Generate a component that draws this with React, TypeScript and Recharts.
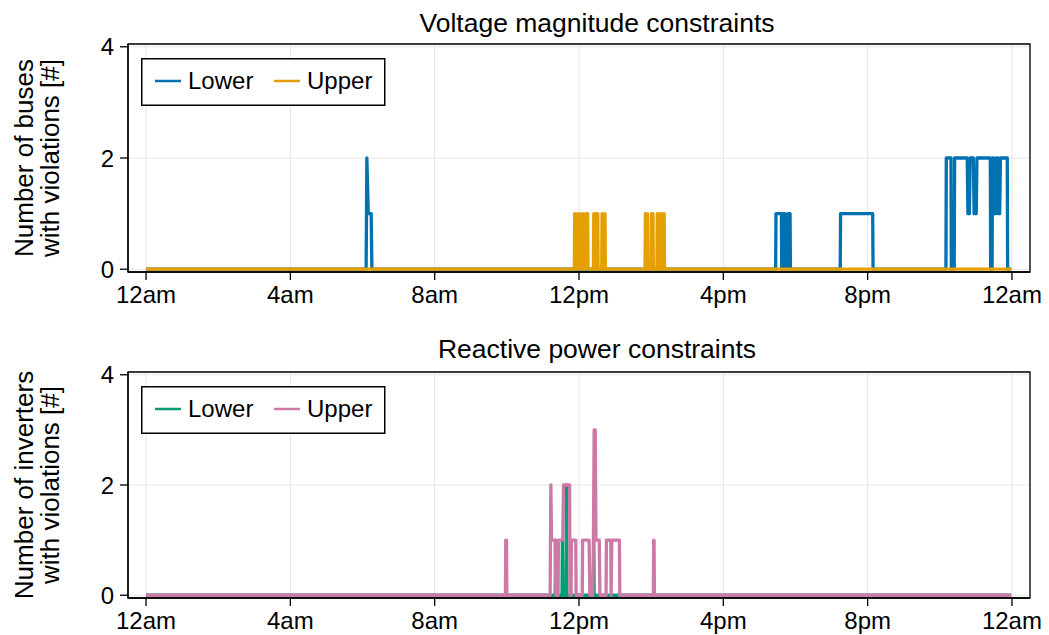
import React from 'react';
import { LineChart, Line, XAxis, YAxis, CartesianGrid, ReferenceArea } from 'recharts';

// ---- axis ticks ----
const hourTicks = [0, 4, 8, 12, 16, 20, 24];
const hourLabels = ['12am', '4am', '8am', '12pm', '4pm', '8pm', '12am'];
const countTicks = [0, 2, 4];

// ---- Voltage magnitude constraints ----
const voltLowerT = [0, 6.10, 6.12, 6.16, 6.24, 6.26, 17.45, 17.46, 17.61, 17.62, 17.64, 17.65, 17.71, 17.72, 17.78, 17.79, 17.85, 17.86, 19.24, 19.25, 20.14, 20.15, 22.17, 22.18, 22.31, 22.32, 22.40, 22.41, 22.76, 22.78, 22.82, 22.84, 22.93, 22.95, 23.01, 23.03, 23.40, 23.41, 23.45, 23.46, 23.50, 23.52, 23.55, 23.57, 23.61, 23.63, 23.66, 23.68, 23.87, 23.88, 23.98];
const voltLowerV = [0, 0, 2, 1, 1, 0, 0, 1, 1, 0, 0, 1, 1, 0, 0, 1, 1, 0, 0, 1, 1, 0, 0, 2, 2, 0, 0, 2, 2, 1, 1, 2, 2, 1, 1, 2, 2, 0, 0, 2, 2, 1, 1, 2, 2, 1, 1, 2, 2, 0, 0];

const voltUpperT = [0, 11.87, 11.88, 11.92, 11.96, 12.00, 12.04, 12.08, 12.12, 12.16, 12.20, 12.24, 12.25, 12.40, 12.41, 12.45, 12.48, 12.52, 12.53, 12.63, 12.64, 12.68, 12.72, 12.73, 13.83, 13.84, 13.87, 13.90, 13.91, 14.00, 14.01, 14.05, 14.06, 14.16, 14.17, 14.20, 14.24, 14.26, 14.28, 14.32, 14.36, 14.37, 23.98];
const voltUpperV = [0, 0, 1, 0, 1, 0, 1, 0, 1, 0, 1, 1, 0, 0, 1, 0, 1, 1, 0, 0, 1, 0, 1, 0, 0, 1, 0, 1, 0, 0, 1, 1, 0, 0, 1, 0, 1, 0, 1, 0, 1, 0, 0];

// ---- Reactive power constraints ----
const reactLowerT = [0, 11.34, 11.35, 11.36, 11.53, 11.54, 11.55, 11.64, 11.65, 11.66, 12.40, 12.41, 12.42, 23.98];
const reactLowerV = [0, 0, 1, 0, 0, 1, 0, 0, 2, 0, 0, 1, 0, 0];

const reactUpperT = [0, 9.96, 9.97, 9.99, 10.00, 11.20, 11.22, 11.24, 11.34, 11.36, 11.42, 11.43, 11.55, 11.57, 11.74, 11.75, 11.78, 11.79, 11.91, 11.92, 12.09, 12.10, 12.28, 12.30, 12.38, 12.40, 12.42, 12.45, 12.47, 12.56, 12.58, 12.75, 12.76, 12.88, 12.89, 12.91, 13.12, 13.13, 14.06, 14.07, 14.08, 14.09, 23.98];
const reactUpperV = [0, 0, 1, 1, 0, 0, 2, 1, 1, 0, 0, 1, 1, 2, 2, 0, 0, 1, 1, 0, 0, 1, 1, 0, 0, 1, 3, 3, 1, 1, 0, 0, 1, 1, 0, 1, 1, 0, 0, 1, 1, 0, 0];

const zip = (t: number[], v: number[]) => t.map((x, i) => ({ t: x, v: v[i] }));

const FONT = '"Liberation Sans", Arial, Helvetica, sans-serif';
const BLUE = '#0072B2';
const ORANGE = '#E69F00';
const GREEN = '#009E73';
const PINK = '#CC79A7';

type Series = { name: string; color: string; data: { t: number; v: number }[] };

function Panel(props: {
  top: number;
  height: number;
  marginTop: number;
  xHeight: number;
  title: string;
  titleY: number;
  yLines: string[];
  series: Series[];
}) {
  const { top, height, marginTop, xHeight, title, titleY, yLines, series } = props;
  const plotTop = marginTop;
  const plotBottom = height - xHeight;
  const midY = (plotTop + plotBottom) / 2;
  return (
    <div style={{ position: 'absolute', left: 0, top, width: 1049, height }}>
      <LineChart width={1049} height={height} margin={{ top: marginTop, right: 19, bottom: 0, left: 0 }}>
        <CartesianGrid stroke="#e6e6e6" strokeWidth={1} horizontal vertical />
        <XAxis
          type="number"
          dataKey="t"
          domain={[-0.5, 24.5]}
          ticks={hourTicks}
          allowDataOverflow
          height={xHeight}
          tickSize={8}
          tickMargin={6}
          interval={0}
          tickFormatter={(v: number) => hourLabels[hourTicks.indexOf(v)]}
          tick={{ fill: '#000', fontSize: 24, fontFamily: FONT }}
          axisLine={{ stroke: '#000', strokeWidth: 1.3 }}
          tickLine={{ stroke: '#000', strokeWidth: 1.3 }}
        />
        <YAxis
          type="number"
          domain={[-0.05, 4.05]}
          ticks={countTicks}
          allowDataOverflow
          width={128}
          tickSize={8}
          tickMargin={6}
          interval={0}
          tick={{ fill: '#000', fontSize: 24, fontFamily: FONT }}
          axisLine={{ stroke: '#000', strokeWidth: 1.3 }}
          tickLine={{ stroke: '#000', strokeWidth: 1.3 }}
        />
        {series.map((s) => (
          <Line
            key={s.name}
            data={s.data}
            dataKey="v"
            name={s.name}
            type="linear"
            stroke={s.color}
            strokeWidth={3.3}
            strokeLinejoin="round"
            dot={false}
            activeDot={false}
            isAnimationActive={false}
          />
        ))}
        <ReferenceArea x1={-0.5} x2={24.5} y1={-0.05} y2={4.05} fill="none" fillOpacity={0} stroke="#000" strokeWidth={1.3} />
      </LineChart>
      <svg width={1049} height={height} style={{ position: 'absolute', left: 0, top: 0, pointerEvents: 'none' }}>
        <text x={597} y={titleY} textAnchor="middle" fontSize={26.5} fontFamily={FONT} fill="#000">
          {title}
        </text>
        {yLines.map((l, i) => (
          <text
            key={l}
            transform={`translate(${33 + i * 25.5},${midY}) rotate(-90)`}
            textAnchor="middle"
            fontSize={26}
            fontFamily={FONT}
            fill="#000"
          >
            {l}
          </text>
        ))}
        <g transform={`translate(141,${plotTop + 14})`}>
          <rect x={0.75} y={0.75} width={243} height={46.5} fill="#fff" stroke="#000" strokeWidth={1.5} />
          {series.map((s, i) => (
            <g key={s.name} transform={`translate(${14 + i * 119},0)`}>
              <line x1={0} x2={26} y1={23} y2={23} stroke={s.color} strokeWidth={2.5} />
              <text x={33} y={30.5} fontSize={24} fontFamily={FONT} fill="#000">
                {s.name}
              </text>
            </g>
          ))}
        </g>
      </svg>
    </div>
  );
}

export default function App() {
  return (
    <div style={{ position: 'fixed', left: 0, top: 0, width: 1049, height: 635, background: '#fff', overflow: 'hidden' }}>
      <Panel
        top={0}
        height={310}
        marginTop={44}
        xHeight={38}
        title="Voltage magnitude constraints"
        titleY={32}
        yLines={['Number of buses', 'with violations [#]']}
        series={[
          { name: 'Lower', color: BLUE, data: zip(voltLowerT, voltLowerV) },
          { name: 'Upper', color: ORANGE, data: zip(voltUpperT, voltUpperV) },
        ]}
      />
      <Panel
        top={326}
        height={309}
        marginTop={46}
        xHeight={37}
        title="Reactive power constraints"
        titleY={32}
        yLines={['Number of inverters', 'with violations [#]']}
        series={[
          { name: 'Lower', color: GREEN, data: zip(reactLowerT, reactLowerV) },
          { name: 'Upper', color: PINK, data: zip(reactUpperT, reactUpperV) },
        ]}
      />
    </div>
  );
}
